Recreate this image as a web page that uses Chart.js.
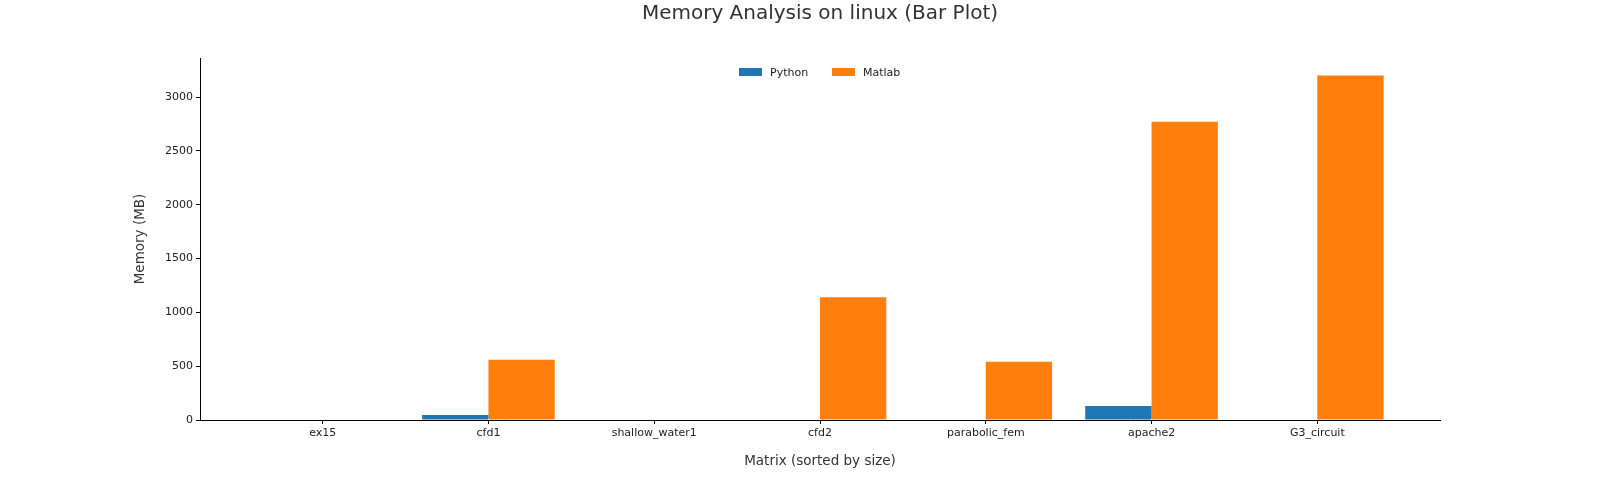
<!DOCTYPE html>
<html>
<head>
<meta charset="utf-8">
<script src="https://cdn.jsdelivr.net/npm/chart.js@4.4.1/dist/chart.umd.min.js"></script>
<style>
  html, body { margin: 0; padding: 0; background: #fff; }
  #wrap { width: 1600px; height: 480px; }
</style>
</head>
<body>
<div id="wrap"><canvas id="chart"></canvas></div>
<script>
let categories = [
  "ex15",
  "cfd1",
  "shallow_water1",
  "cfd2",
  "parabolic_fem",
  "apache2",
  "G3_circuit",
];

let pythonMem = [0, 46, 0, 0, 0, 130, 0];
let matlabMem = [0, 560, 0, 1140, 540, 2770, 3200];

let yTicks = [0, 500, 1000, 1500, 2000, 2500, 3000];

const seriesColors = {
  Python: "#1f77b4",
  Matlab: "#ff7f0e",
};

const toPoints = (arr) => arr.map((v, i) => ({ x: i, y: v }));

// legend sits inside the axes, top centre (like matplotlib's "upper center")
const innerLegend = {
  id: "innerLegend",
  afterDraw(chart) {
    const ctx = chart.ctx;
    const area = chart.chartArea;
    const cx = (area.left + area.right) / 2;
    const y = area.top + 14;
    ctx.save();
    ctx.font = "11px 'DejaVu Sans'";
    ctx.textBaseline = "middle";
    let x = cx - 81;
    Object.keys(seriesColors).forEach((name) => {
      ctx.fillStyle = seriesColors[name];
      ctx.fillRect(x, y - 4, 23, 8);
      ctx.fillStyle = "#222";
      ctx.fillText(name, x + 31, y + 1);
      x += 93;
    });
    ctx.restore();
  },
};

new Chart(document.getElementById("chart"), {
  type: "bar",
  data: {
    datasets: [
      {
        label: "Python",
        data: toPoints(pythonMem),
        backgroundColor: seriesColors.Python,
        borderWidth: 0,
        categoryPercentage: 0.8,
        barPercentage: 1.0,
      },
      {
        label: "Matlab",
        data: toPoints(matlabMem),
        backgroundColor: seriesColors.Matlab,
        borderWidth: 0,
        categoryPercentage: 0.8,
        barPercentage: 1.0,
      },
    ],
  },
  plugins: [innerLegend],
  options: {
    responsive: true,
    maintainAspectRatio: false,
    animation: false,
    layout: {
      padding: { left: 0, right: 160, top: 0, bottom: 0 },
    },
    plugins: {
      legend: { display: false },
      tooltip: { enabled: false },
      title: {
        display: true,
        fullSize: false,
        text: "Memory Analysis on linux (Bar Plot)",
        color: "#333",
        font: { family: "DejaVu Sans", size: 20, weight: "normal" },
        padding: { top: 2, bottom: 32 },
      },
    },
    scales: {
      x: {
        type: "linear",
        min: -0.74,
        max: 6.74,
        offset: false,
        afterBuildTicks: (scale) => {
          scale.ticks = categories.map((c, i) => ({ value: i }));
        },
        afterFit: (scale) => {
          scale.height = 60;
        },
        ticks: {
          color: "#222",
          font: { family: "DejaVu Sans", size: 11 },
          padding: 3,
          maxRotation: 0,
          autoSkip: false,
          callback: (v) => categories[v] || "",
        },
        grid: {
          offset: false,
          drawOnChartArea: false,
          tickLength: 4,
          color: "#000",
        },
        border: { color: "#000", width: 1 },
        title: {
          display: true,
          text: "Matrix (sorted by size)",
          color: "#333",
          font: { family: "DejaVu Sans", size: 13.5 },
          padding: { top: 0, bottom: 10 },
        },
      },
      y: {
        min: 0,
        max: 3363,
        afterBuildTicks: (scale) => {
          scale.ticks = yTicks.map((v) => ({ value: v }));
        },
        afterFit: (scale) => {
          scale.width = 200;
        },
        ticks: {
          color: "#222",
          font: { family: "DejaVu Sans", size: 11 },
          padding: 3,
          callback: (v) => String(v),
        },
        grid: {
          drawOnChartArea: false,
          tickLength: 4,
          color: "#000",
        },
        border: { color: "#000", width: 1 },
        title: {
          display: true,
          text: "Memory (MB)",
          color: "#333",
          font: { family: "DejaVu Sans", size: 13.5 },
          padding: { top: 132, bottom: 0 },
        },
      },
    },
  },
});
</script>
</body>
</html>
